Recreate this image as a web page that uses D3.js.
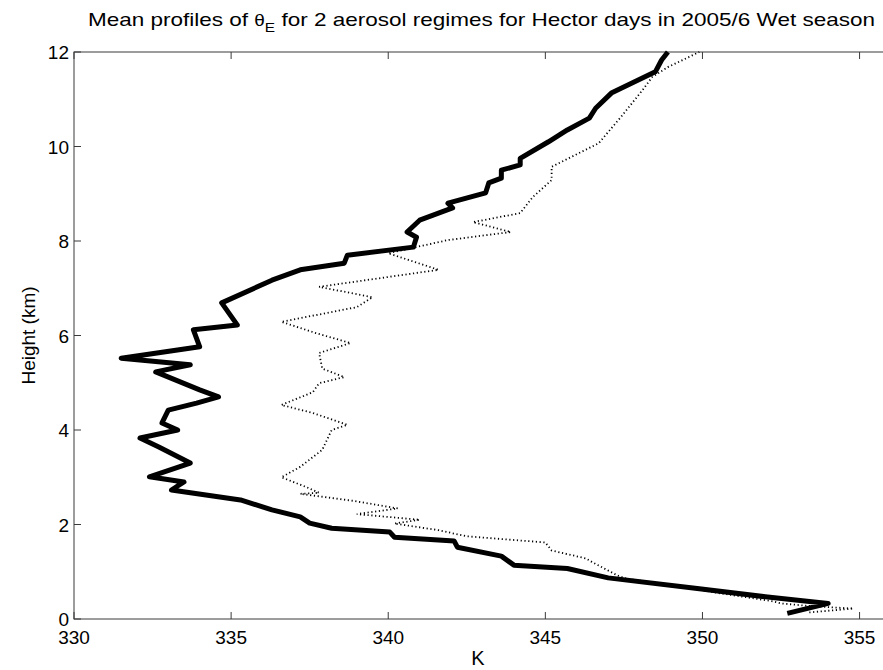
<!DOCTYPE html>
<html>
<head>
<meta charset="utf-8">
<script src="https://cdn.jsdelivr.net/npm/d3@7"></script>
<style>
  body { margin: 0; background: #fff; }
  svg { display: block; font-family: "Liberation Sans", Arial, sans-serif; }
</style>
</head>
<body>
<div id="chart"></div>
<script>
// theta_E profiles, [K, height km]
const solidProfile = [
  [352.7, 0.12], [354.0, 0.33], [352.0, 0.47], [349.9, 0.64], [347.0, 0.87],
  [345.7, 1.07], [344.0, 1.14], [343.6, 1.33], [342.2, 1.52], [342.1, 1.65],
  [340.2, 1.73], [340.05, 1.84], [338.2, 1.92], [337.5, 2.03], [337.2, 2.16],
  [336.3, 2.31], [335.3, 2.52], [333.1, 2.73], [333.5, 2.90], [332.4, 3.01],
  [333.7, 3.30], [332.7, 3.64], [332.1, 3.83], [333.3, 4.00], [332.8, 4.15],
  [333.0, 4.42], [333.9, 4.57], [334.6, 4.70], [334.0, 4.85], [332.6, 5.23],
  [333.7, 5.38], [331.5, 5.52], [334.0, 5.76], [333.8, 6.12], [335.2, 6.22],
  [334.7, 6.69], [336.3, 7.17], [337.2, 7.39], [338.6, 7.53], [338.7, 7.70],
  [340.8, 7.87], [340.9, 8.08], [340.6, 8.19], [341.0, 8.44], [342.05, 8.70],
  [341.9, 8.80], [343.1, 9.02], [343.2, 9.23], [343.6, 9.33], [343.6, 9.50],
  [344.2, 9.61], [344.2, 9.75], [345.1, 10.1], [345.7, 10.35], [346.4, 10.60],
  [346.6, 10.81], [347.1, 11.13], [348.5, 11.58], [348.7, 11.83], [348.9, 12.0]
];

const dottedProfile = [
  [353.4, 0.14], [354.8, 0.22], [353.3, 0.28], [352.5, 0.33], [352.2, 0.38],
  [350.5, 0.55], [349.0, 0.72], [347.6, 0.85], [347.3, 0.92], [346.5, 1.20],
  [346.3, 1.28], [345.2, 1.45], [345.0, 1.62], [342.5, 1.75], [341.6, 1.88],
  [340.2, 2.02], [341.0, 2.10], [339.0, 2.22], [340.3, 2.34], [338.9, 2.50],
  [337.2, 2.65], [337.8, 2.67], [337.4, 2.79], [336.6, 3.00], [337.2, 3.22],
  [337.9, 3.58], [338.2, 4.00], [338.7, 4.11], [337.6, 4.36], [336.6, 4.53],
  [337.6, 4.80], [337.8, 4.99], [338.6, 5.12], [337.9, 5.30], [337.8, 5.63],
  [338.8, 5.84], [337.7, 6.05], [336.6, 6.29], [339.0, 6.60], [339.5, 6.81],
  [337.8, 7.03], [341.6, 7.39], [340.0, 7.74], [341.9, 8.02], [343.9, 8.19],
  [342.7, 8.40], [344.2, 8.59], [344.6, 8.93], [345.2, 9.29], [345.2, 9.57],
  [346.7, 10.07], [347.4, 10.62], [348.1, 11.20], [348.4, 11.47], [348.9, 11.68],
  [349.9, 12.0]
];

const xTicks = [330, 335, 340, 345, 350, 355];
const yTicks = [0, 2, 4, 6, 8, 10, 12];

const width = 883, height = 670;
const margin = { left: 74, top: 52, right: 891, bottom: 619 };

const svg = d3.select("#chart").append("svg")
  .attr("width", width)
  .attr("height", height);

const x = d3.scaleLinear().domain([330, 356]).range([margin.left, margin.right]);
const y = d3.scaleLinear().domain([0, 12]).range([margin.bottom, margin.top]);

const axisColor = "#3a3a3a";
const tickLen = 7;

// plot box
svg.append("rect")
  .attr("x", margin.left).attr("y", margin.top)
  .attr("width", margin.right - margin.left)
  .attr("height", margin.bottom - margin.top)
  .attr("fill", "none")
  .attr("stroke", axisColor)
  .attr("stroke-width", 1);

// ticks pointing inward on all four sides
const gTicks = svg.append("g").attr("stroke", axisColor).attr("stroke-width", 1);
xTicks.forEach(t => {
  gTicks.append("line").attr("x1", x(t)).attr("x2", x(t))
    .attr("y1", margin.bottom).attr("y2", margin.bottom - tickLen);
  gTicks.append("line").attr("x1", x(t)).attr("x2", x(t))
    .attr("y1", margin.top).attr("y2", margin.top + tickLen);
});
yTicks.forEach(t => {
  gTicks.append("line").attr("y1", y(t)).attr("y2", y(t))
    .attr("x1", margin.left).attr("x2", margin.left + tickLen);
  gTicks.append("line").attr("y1", y(t)).attr("y2", y(t))
    .attr("x1", margin.right).attr("x2", margin.right - tickLen);
});

// tick labels
svg.append("g").selectAll("text").data(xTicks).join("text")
  .attr("x", d => x(d))
  .attr("y", margin.bottom + 25)
  .attr("text-anchor", "middle")
  .attr("font-size", 19)
  .text(d => d);

svg.append("g").selectAll("text").data(yTicks).join("text")
  .attr("x", margin.left - 5)
  .attr("y", d => y(d) + 7)
  .attr("text-anchor", "end")
  .attr("font-size", 19)
  .text(d => d);

// profiles
const line = d3.line().x(d => x(d[0])).y(d => y(d[1]));

svg.append("path")
  .datum(dottedProfile)
  .attr("d", line)
  .attr("fill", "none")
  .attr("stroke", "#000")
  .attr("stroke-width", 1.8)
  .attr("stroke-dasharray", "1.2,2.6");

svg.append("path")
  .datum(solidProfile)
  .attr("d", line)
  .attr("fill", "none")
  .attr("stroke", "#000")
  .attr("stroke-width", 5)
  .attr("stroke-linejoin", "round");

// axis labels
svg.append("text")
  .attr("x", (margin.left + 882) / 2)
  .attr("y", 665)
  .attr("text-anchor", "middle")
  .attr("font-size", 20)
  .text("K");

svg.append("text")
  .attr("transform", `translate(35,${(margin.top + margin.bottom) / 2}) rotate(-90)`)
  .attr("text-anchor", "middle")
  .attr("font-size", 19)
  .text("Height (km)");

// title with subscript
const title = svg.append("text")
  .attr("x", 88)
  .attr("y", 26)
  .attr("font-size", 19)
  .attr("textLength", 787)
  .attr("lengthAdjust", "spacingAndGlyphs");
title.append("tspan").text("Mean profiles of ");
title.append("tspan").attr("font-size", 16).text("θ");
title.append("tspan").attr("font-size", 13).attr("dy", 6).text("E");
title.append("tspan").attr("dy", -6).text(" for 2 aerosol regimes for Hector days in 2005/6 Wet season");
</script>
</body>
</html>
